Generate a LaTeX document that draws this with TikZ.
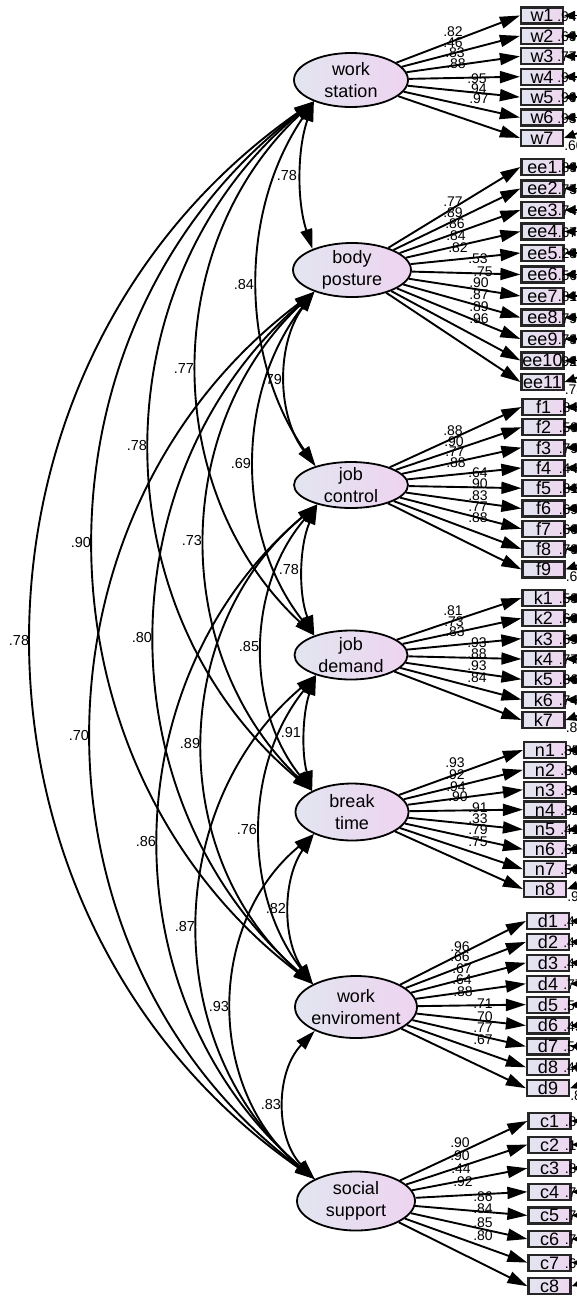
\documentclass[tikz,border=0pt]{standalone}
\usepackage{fontspec}
\setmainfont{Liberation Sans}
\usetikzlibrary{shapes.geometric,arrows.meta}
\definecolor{latL}{RGB}{226,229,240}
\definecolor{latR}{RGB}{238,212,240}
\definecolor{boxL}{RGB}{226,229,240}
\definecolor{boxR}{RGB}{238,214,240}
\def\cvnone{-}
% covariance arc: #1 upper latent, #2 lower latent, #3 leftmost x of the arc, #4 label
\newcommand\covarc[4]{%
  \pgfpointanchor{#1}{210}\pgfgetlastxy{\cvxa}{\cvya}%
  \pgfpointanchor{#2}{152}\pgfgetlastxy{\cvxb}{\cvyb}%
  \pgfmathsetmacro\cvdy{\cvyb-(\cvya)}%
  \pgfmathsetmacro\cvdx{\cvxb-(\cvxa)}%
  \pgfmathsetmacro\cvh{abs(\cvdy)/2*sqrt(1+(\cvdx/\cvdy)^2)}%
  \pgfmathsetmacro\cvd{(\cvxa+\cvxb)/2-#3}%
  \pgfmathsetmacro\cvt{2*atan(\cvd/\cvh)}%
  \pgfmathsetmacro\cvc{atan2(\cvdy,\cvdx)}%
  \pgfmathsetmacro\cvk{2/3*(\cvd*(\cvd/\cvh)+\cvh)}%
  \pgfmathsetmacro\cvo{\cvc-\cvt}%
  \pgfmathsetmacro\cvi{\cvc+\cvt+180}%
  \pgfmathsetmacro\cvax{\cvk*cos(\cvo)}%
  \pgfmathsetmacro\cvay{\cvk*sin(\cvo)}%
  \pgfmathsetmacro\cvbx{\cvk*cos(\cvi)}%
  \pgfmathsetmacro\cvby{\cvk*sin(\cvi)}%
  \draw[cov] (#1.210) .. controls +(\cvax,\cvay) and +(\cvbx,\cvby) .. (#2.152)
     node[covlab] (cl#1#2) {#4};%
}
% observed group: #1 prefix, #2 latent, #3 x, #4 first y, #5 step, #6 list i/smc, #7 last index
\newcommand\obsgroup[7]{%
  \foreach \i/\s in {#6} {%
    \pgfmathsetmacro\yy{-(#4+#5*(\i-1))}%
    \node[obs] (#1\i) at (#3,\yy) {#1\i};%
    \draw[load] (#2) -- (#1\i.west);%
    \ifnum\i=#7\relax
      \ifx\s\cvnone\else\node[smc] (s#1\i) at ([yshift=-12.5pt]#1\i.east) {\s};\fi
      \coordinate (e#1\i) at ([xshift=40pt,yshift=14pt]#1\i.east);%
    \else
      \node[smc] (s#1\i) at ([xshift=-7pt,yshift=-5.5pt]#1\i.east) {\s};%
      \coordinate (e#1\i) at ([xshift=40pt]#1\i.east);%
    \fi
    \draw[err] (e#1\i) -- (#1\i.east);%
  }%
}
\begin{document}
\begin{tikzpicture}[x=1pt,y=1pt,
  lat/.style={ellipse, draw=black, line width=1.8pt, left color=latL, right color=latR,
    inner sep=-6pt, align=center, font=\fontsize{18}{21.5}\selectfont},
  obs/.style={rectangle, draw=black!85, line width=2.2pt, left color=boxL, right color=boxR,
    minimum width=42pt, minimum height=16pt, inner sep=0pt, text height=12.9pt, text depth=0pt,
    font=\fontsize{18}{18}\selectfont},
  load/.style={line width=1.9pt, -{Triangle[length=20pt,width=12pt]}},
  cov/.style={line width=1.9pt, {Triangle[length=20pt,width=12pt]}-{Triangle[length=20pt,width=12pt]}},
  err/.style={line width=1.8pt, -{Triangle[length=11pt,width=9pt]}},
  coef/.style={font=\fontsize{14}{14}\selectfont, inner sep=0pt},
  smc/.style={font=\fontsize{14}{14}\selectfont, inner sep=0pt, anchor=base west},
  covlab/.style={midway, anchor=east, inner sep=0pt, xshift=-3pt, font=\fontsize{14.5}{14.5}\selectfont},
]
\path[use as bounding box] (0,0) rectangle (577,-1315);
\clip (0,0) rectangle (577,-1315);

% latent variables
\node[lat, minimum width=114pt, minimum height=54pt] (ws) at (351,-80) {work\\station};
\node[lat, minimum width=118pt, minimum height=54pt] (bp) at (352,-270) {body\\posture};
\node[lat, minimum width=114pt, minimum height=46pt] (jc) at (351,-485) {job\\control};
\node[lat, minimum width=113pt, minimum height=49pt] (jd) at (351,-655) {job\\demand};
\node[lat, minimum width=113pt, minimum height=57pt] (bt) at (352,-812) {break\\time};
\node[lat, minimum width=122pt, minimum height=62pt] (we) at (356,-1007) {work\\enviroment};
\node[lat, minimum width=118pt, minimum height=59pt] (ss) at (356,-1201) {social\\support};

% observed variables, loadings, error arrows
\obsgroup{w}{ws}{542}{15.5}{20.4}{1/.94,2/.69,3/.77,4/.94,5/.90,6/.93,7/.60}{7}
\obsgroup{ee}{bp}{542.5}{167}{21.5}{1/.89,2/.75,3/.74,4/.67,5/.28,6/.56,7/.81,8/.79,9/.79,10/.92,11/.78}{11}
\obsgroup{f}{jc}{543.5}{407}{20.3}{1/.84,2/.59,3/.79,4/.44,5/.81,6/.69,7/.60,8/.79,9/.65}{9}
\obsgroup{k}{jd}{543.5}{598}{20.33}{1/.53,2/.69,3/.69,4/.77,5/.86,6/.74,7/.87}{7}
\obsgroup{n}{bt}{545}{750}{19.86}{1/.85,2/.86,3/.81,4/.82,5/.41,6/.62,7/.56,8/.92}{8}
\obsgroup{d}{we}{548}{921}{20.9}{1/.44,2/.44,3/.44,4/.77,5/.54,6/.49,7/.56,8/.45,9/.83}{9}
\obsgroup{c}{ss}{549.5}{1121}{23.6}{1/.85,2/.19,3/.85,4/.79,5/.77,6/.73,7/.65,8/-}{8}

% loading coefficients
\foreach \i/\x/\y/\t in {1/453/32/.82,2/453/43/.46,3/455/53/.83,4/456/64/.88,5/477/79/.95,6/477/89/.94,7/479/99/.97}
  \node[coef] (lw\i) at (\x,-\y) {\t};
\foreach \i/\x/\y/\t in {1/453/202/.77,2/453/213/.89,3/455/224/.86,4/456/236/.84,5/458/248/.82,6/478/259/.53,7/483/272/.75,8/479/283/.90,9/479/295/.87,10/479/307/.89,11/479/319/.96}
  \node[coef] (lee\i) at (\x,-\y) {\t};
\foreach \i/\x/\y/\t in {1/453/431/.88,2/454/442/.90,3/455/452/.77,4/456/463/.88,5/478/473/.64,6/478/484/.90,7/478/496/.83,8/478/507/.77,9/478/518/.88}
  \node[coef] (lf\i) at (\x,-\y) {\t};
\foreach \i/\x/\y/\t in {1/453/611/.81,2/454/622/.73,3/455/632/.83,4/477/643/.93,5/477/654/.88,6/477/666/.93,7/477/678/.84}
  \node[coef] (lk\i) at (\x,-\y) {\t};
\foreach \i/\x/\y/\t in {1/455/763/.93,2/455/775/.92,3/456/787/.94,4/458/797/.90,5/478/808/.91,6/478/819/.33,7/478/830/.79,8/478/842/.75}
  \node[coef] (ln\i) at (\x,-\y) {\t};
\foreach \i/\x/\y/\t in {1/460/947/.96,2/460/957/.66,3/462/969/.67,4/462/980/.64,5/463/992/.88,6/483/1004/.71,7/483/1017/.70,8/483/1028/.77,9/483/1040/.67}
  \node[coef] (ld\i) at (\x,-\y) {\t};
\foreach \i/\x/\y/\t in {1/460/1143/.90,2/460/1156/.90,3/461/1169/.44,4/463/1182/.92,5/483/1197/.86,6/483/1209/.84,7/483/1223/.85,8/483/1236/.80}
  \node[coef] (lc\i) at (\x,-\y) {\t};

% covariances
\covarc{ws}{bp}{301}{.78}
\covarc{ws}{jc}{258}{.84}
\covarc{ws}{jd}{198}{.77}
\covarc{ws}{bt}{151}{.78}
\covarc{ws}{we}{95}{.90}
\covarc{ws}{ss}{33}{.78}
\covarc{bp}{jc}{286}{.79}
\covarc{bp}{jd}{255}{.69}
\covarc{bp}{bt}{206}{.73}
\covarc{bp}{we}{156}{.80}
\covarc{bp}{ss}{93}{.70}
\covarc{jc}{jd}{303}{.78}
\covarc{jc}{bt}{263}{.85}
\covarc{jc}{we}{204}{.89}
\covarc{jc}{ss}{160}{.86}
\covarc{jd}{bt}{305}{.91}
\covarc{jd}{we}{261}{.76}
\covarc{jd}{ss}{199}{.87}
\covarc{bt}{we}{290}{.82}
\covarc{bt}{ss}{233}{.93}
\covarc{we}{ss}{285}{.83}
\end{tikzpicture}
\end{document}
